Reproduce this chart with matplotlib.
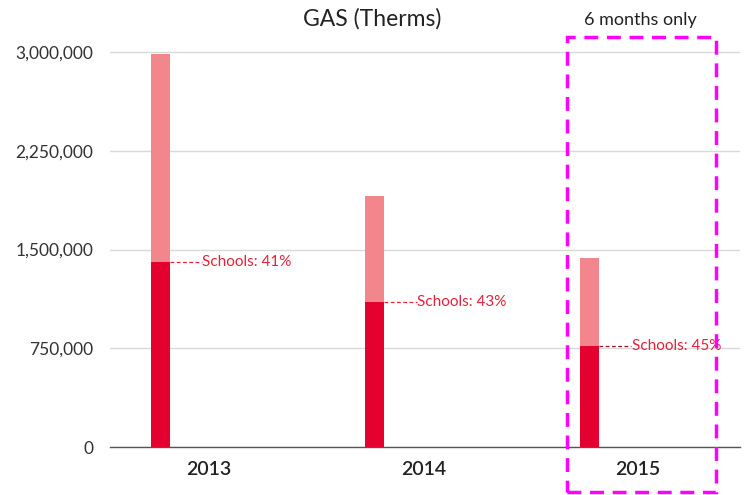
import matplotlib
matplotlib.use("Agg")
import matplotlib.pyplot as plt
from matplotlib.patches import Rectangle
from matplotlib.ticker import FuncFormatter

plt.rcParams['font.family'] = ['Lato', 'DejaVu Sans']

years = ['2013', '2014', '2015']
total = [2985000, 1905000, 1435000]
schools = [1405000, 1100000, 767000]
labels = ['Schools: 41%', 'Schools: 43%', 'Schools: 45%']

dark = '#e4002f'
light = '#f2868c'

fig = plt.figure(figsize=(7.52, 4.95), dpi=100)
ax = fig.add_axes([110/752, 48/495, 630/752, 1 - 48/495 - 25.7/495])

x = range(len(years))
off = -0.226
w = 0.089
bx = [i + off for i in x]
rest = [t - s for t, s in zip(total, schools)]
ax.bar(bx, schools, width=w, color=dark, zorder=3)
ax.bar(bx, rest, width=w, bottom=schools, color=light, zorder=3)

for i in x:
    xs = bx[i] + w / 2
    ax.plot([xs, xs + 0.15], [schools[i], schools[i]], ls=(0, (3, 2)), lw=0.9,
            color='#e8203a' if i < 2 else '#8a1a2a', zorder=4)
    ax.text(xs + 0.152, schools[i], labels[i], color='#e8203a', fontsize=11,
            va='center', ha='left', zorder=5)

ax.set_xlim(-0.46, 2.476)
ax.set_ylim(0, 3200000)
ax.set_yticks([0, 750000, 1500000, 2250000, 3000000])
ax.yaxis.set_major_formatter(FuncFormatter(lambda v, p: f'{int(v):,}'))
ax.set_xticks(list(x))
ax.set_xticklabels(years, fontsize=14, color='#222222', fontweight='semibold')
ax.tick_params(axis='y', length=0, pad=12, labelsize=12.5, labelcolor='#333333')
ax.tick_params(axis='x', length=0, pad=10)
ax.grid(axis='y', color='#d9d9d9', lw=1, zorder=0)
for s in ['top', 'right', 'left']:
    ax.spines[s].set_visible(False)
ax.spines['bottom'].set_color('#555555')
ax.spines['bottom'].set_linewidth(1)

box = Rectangle((1.669, -342000), 2.364 - 1.669, 3114000 + 342000, fill=False,
                edgecolor='#ff00ff', lw=2.5, ls=(0, (4, 2.5)), clip_on=False, zorder=6)
ax.add_patch(box)

fig.text(372/752, 1 - 19/495, 'GAS (Therms)', ha='center', va='center', fontsize=16.5, color='#222222')
fig.text(640/752, 1 - 20/495, '6 months only', ha='center', va='center', fontsize=13, color='#222222')

fig.savefig('out.png', dpi=100)
